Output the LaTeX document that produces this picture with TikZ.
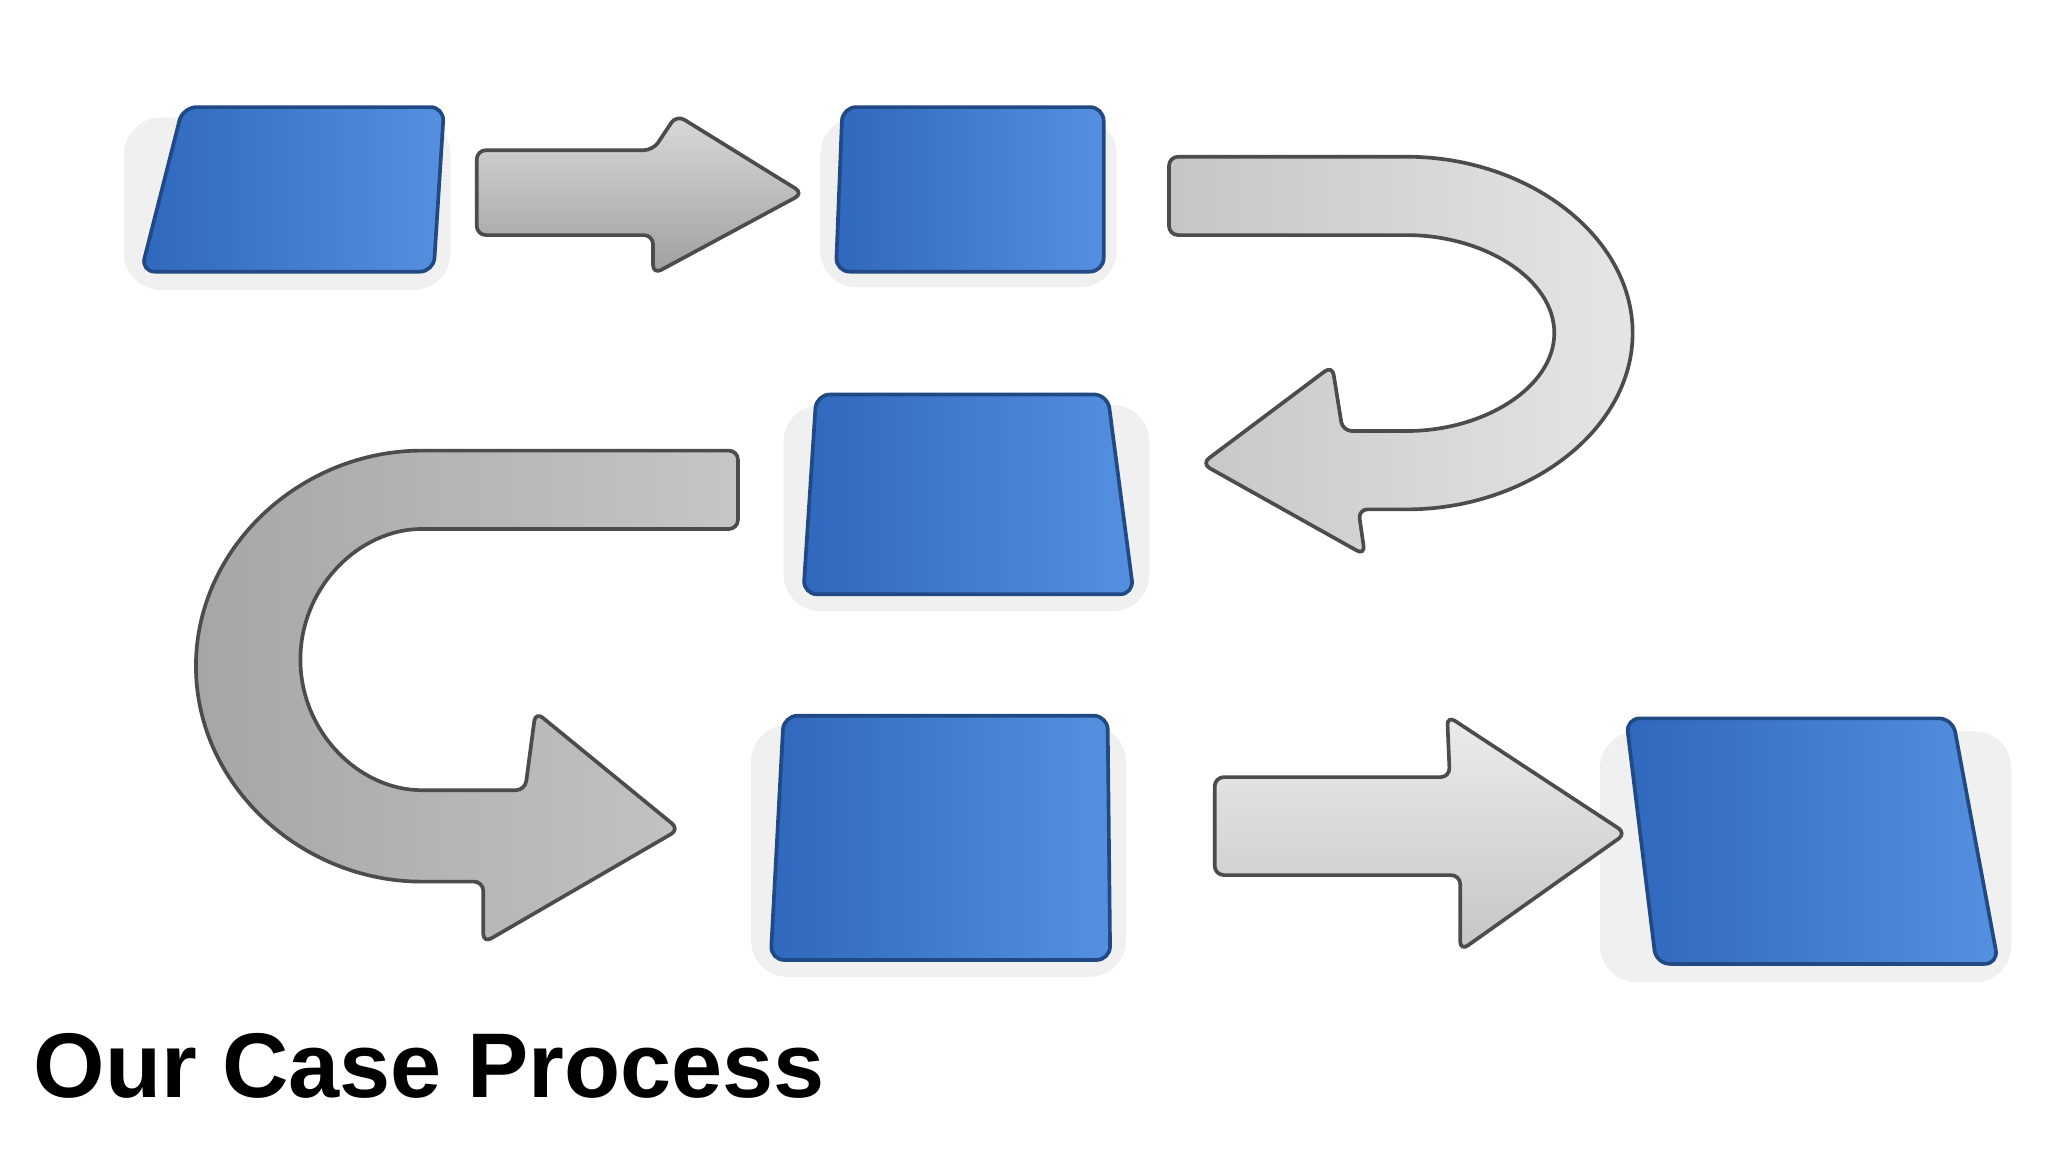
\documentclass[tikz,border=0pt]{standalone}
\usepackage{fontspec}
\setmainfont{Liberation Sans}
\definecolor{bl}{HTML}{2F68BC}
\definecolor{br}{HTML}{5590E0}
\begin{document}
\begin{tikzpicture}[x=0.01cm,y=-0.01cm,
  blk/.style={left color=bl, right color=br, draw=bl!70!black, line width=0.8pt, rounded corners=3pt},
  arr/.style={draw=gray!60!black, line width=0.8pt, rounded corners=2pt},
  shd/.style={fill=black, opacity=0.06, rounded corners=8pt}]
\useasboundingbox (0,0) rectangle (1568,882);
\fill[white] (0,0) rectangle (1568,882);
% shadows
\foreach \a/\b/\c/\d in {95/90/345/222, 628/90/855/220, 600/310/880/468, 575/555/862/748, 1225/560/1540/752}
  \fill[shd] (\a,\b) rectangle (\c,\d);
% arrows
\path[arr, top color=gray!30, bottom color=gray!75] (365,115) -- (500,115) -- (518,88) -- (615,148) -- (500,210) -- (500,180) -- (365,180) -- cycle;
\path[arr, left color=gray!45, right color=gray!20]
  (895,120) -- (1070,120) arc[start angle=-90,end angle=90,x radius=180,y radius=135]
  -- (1040,390) -- (1045,425) -- (920,355) -- (1020,280) -- (1028,330) -- (1070,330)
  arc[start angle=90,end angle=-90,x radius=120,y radius=75] -- (895,180) -- cycle;
\path[arr, left color=gray!70, right color=gray!45]
  (565,345) -- (330,345) arc[start angle=270,end angle=90,x radius=180,y radius=165]
  -- (370,675) -- (370,722) -- (520,635) -- (410,545) -- (402,605) -- (330,605)
  arc[start angle=90,end angle=270,x radius=100,y radius=100] -- (565,405) -- cycle;
\path[arr, top color=gray!15, bottom color=gray!45] (930,595) -- (1110,595) -- (1108,548) -- (1245,638) -- (1118,728) -- (1118,670) -- (930,670) -- cycle;
% blocks
\path[blk] (140,82) -- (340,82) -- (332,208) -- (108,208) -- cycle;
\path[blk] (645,82) -- (845,82) -- (845,208) -- (640,208) -- cycle;
\path[blk] (625,302) -- (848,302) -- (868,455) -- (615,455) -- cycle;
\path[blk] (600,548) -- (848,548) -- (850,735) -- (590,735) -- cycle;
\path[blk] (1245,550) -- (1495,550) -- (1530,738) -- (1268,738) -- cycle;
\node[anchor=base west, font=\bfseries\fontsize{20pt}{24pt}\selectfont, inner sep=0pt] (title) at (25,840) {Our Case Process};
\end{tikzpicture}
\end{document}
